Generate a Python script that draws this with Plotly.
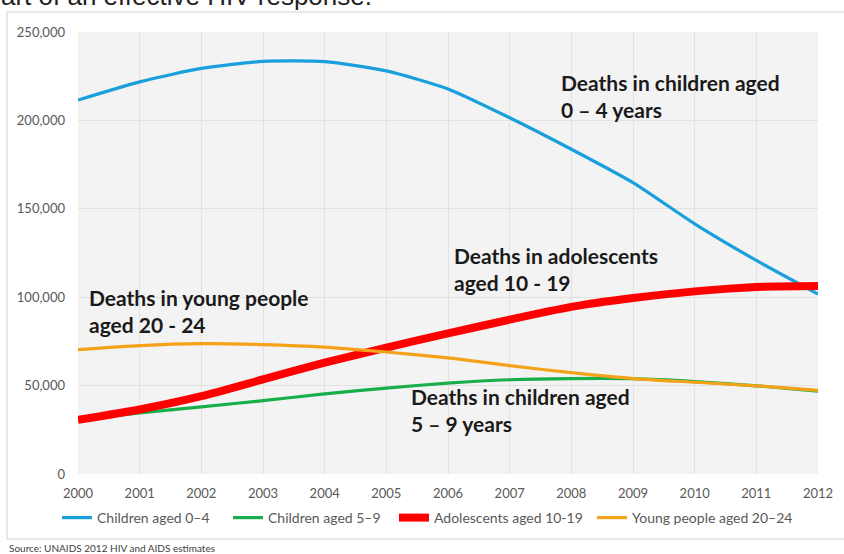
import plotly.graph_objects as go

years = list(range(2000, 2013))
children_0_4 = [211500, 221800, 229400, 233400, 233200, 228000, 217800, 201500, 183700, 164800, 141500, 120800, 101800]
children_5_9 = [30500, 34500, 38000, 41500, 45300, 48600, 51400, 53300, 54000, 53900, 52300, 49900, 46900]
adolescents_10_19 = [30600, 36500, 44000, 53500, 63000, 71500, 79500, 87300, 94500, 99500, 103300, 105800, 106300]
young_20_24 = [70300, 72600, 73700, 73200, 71800, 69000, 65700, 61300, 57300, 54000, 51900, 49900, 47300]

series_names = ["Children aged 0–4", "Children aged 5–9", "Adolescents aged 10-19", "Young people aged 20–24"]
y_ticks = [0, 50000, 100000, 150000, 200000, 250000]
y_tick_labels = ["0", "50,000", "100,000", "150,000", "200,000", "250,000"]

W, H = 844, 554
L, R, T, B = 78, 26, 32, 80
pw, ph = W - L - R, H - T - B

def px_x(p):
    return (p - L) / pw

def px_y(p):
    return (H - B - p) / ph

FONT = "Lato"
fig = go.Figure()
specs = [
    (children_0_4, "#1A9FDD", 3.2, "legend", 57),
    (children_5_9, "#16AF4A", 3.2, "legend2", 228),
    (adolescents_10_19, "#FF0000", 8, "legend3", 394),
    (young_20_24, "#F5A21B", 3.2, "legend4", 592),
]
legends = {}
for (vals, col, w, lg, lx), name in zip(specs, series_names):
    fig.add_trace(go.Scatter(x=years, y=vals, mode="lines", name=name, legend=lg,
                             line=dict(color=col, width=w, shape="spline", smoothing=0.6)))
    legends[lg] = dict(orientation="h", x=px_x(lx), y=px_y(518), xanchor="left", yanchor="middle",
                       font=dict(family=FONT, size=14, color="#595959"), itemwidth=30,
                       bgcolor="rgba(0,0,0,0)")

fig.update_layout(
    width=W, height=H,
    margin=dict(l=L, r=R, t=T, b=B),
    paper_bgcolor="white",
    plot_bgcolor="#F3F3F3",
    font=dict(family=FONT, size=13, color="#595959"),
    showlegend=True,
    **legends,
)
fig.update_xaxes(range=[2000, 2012], tickvals=years, ticktext=[str(y) for y in years],
                 showgrid=True, gridcolor="#E2E2E2", gridwidth=1, zeroline=False,
                 showline=False, ticks="", tickfont=dict(size=13, color="#595959"),
                 ticklabelstandoff=10)
fig.update_yaxes(range=[0, 250000], tickvals=y_ticks, ticktext=y_tick_labels,
                 showgrid=True, gridcolor="#E2E2E2", gridwidth=1, zeroline=False,
                 showline=False, ticks="", tickfont=dict(size=13, color="#595959"),
                 ticklabelstandoff=12)

# outer frame
fig.add_shape(type="rect", xref="paper", yref="paper",
              x0=px_x(7), x1=px_x(850), y0=px_y(539), y1=px_y(12),
              line=dict(color="#D0D0D0", width=1), fillcolor="rgba(0,0,0,0)", layer="below")

annots = [
    ("Deaths in children aged<br>0 – 4 years", 559, 68),
    ("Deaths in adolescents<br>aged 10 - 19", 452, 241),
    ("Deaths in young people<br>aged 20 - 24", 87, 283),
    ("Deaths in children aged<br>5 – 9 years", 409, 382),
]
for txt, x, y in annots:
    fig.add_annotation(text=txt, xref="paper", yref="paper", x=px_x(x), y=px_y(y),
                       xanchor="left", yanchor="top", showarrow=False, align="left",
                       font=dict(family=FONT, size=21, color="#1A1A1A", weight="bold"))

fig.add_annotation(text="Source: UNAIDS 2012 HIV and AIDS estimates", xref="paper", yref="paper",
                   x=px_x(7), y=px_y(548), xanchor="left", yanchor="middle", showarrow=False,
                   font=dict(family=FONT, size=10, color="#404040"))

fig.add_annotation(text="art of an effective HIV response.", xref="paper", yref="paper",
                   x=px_x(-1), y=px_y(13), xanchor="left", yanchor="bottom", showarrow=False,
                   font=dict(family="Liberation Sans", size=26, color="#222222"))

fig.write_html("out.html", config={"displayModeBar": False},
               post_script="document.body.style.margin='0';document.body.style.padding='0';")
